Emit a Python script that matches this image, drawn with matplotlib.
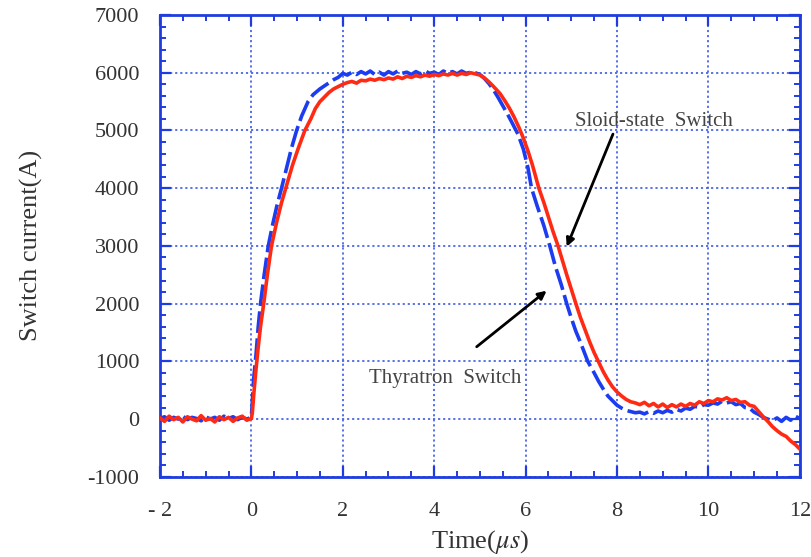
import numpy as np
import matplotlib
matplotlib.use("Agg")
import matplotlib.pyplot as plt
from matplotlib.ticker import MultipleLocator

plt.rcParams['font.family'] = ['Liberation Serif', 'DejaVu Serif']
plt.rcParams['mathtext.fontset'] = 'stix'
plt.rcParams['axes.unicode_minus'] = False

# DATA
t_red = [-2.0, -1.9, -1.8, -1.7, -1.6, -1.5, -1.4, -1.3, -1.2, -1.1, -1.0, -0.9, -0.8, -0.7, -0.6,
         -0.5, -0.4, -0.3, -0.2, -0.1, 0.0,
         0.02, 0.06, 0.1, 0.15, 0.2, 0.27, 0.35, 0.44, 0.55, 0.66, 0.77, 0.9, 1.03, 1.17, 1.3, 1.4,
         1.5, 1.6, 1.7, 1.8, 1.9, 2.0, 2.1,
         2.2, 2.3, 2.4, 2.5, 2.6, 2.7, 2.8, 2.9, 3.0, 3.1, 3.2, 3.3, 3.4, 3.5, 3.6, 3.7, 3.8, 3.9,
         4.0, 4.1, 4.2, 4.3, 4.4, 4.5, 4.6, 4.7, 4.8, 4.9, 5.0,
         5.1, 5.2, 5.3, 5.44, 5.55, 5.65, 5.75, 5.85, 5.95, 6.05, 6.15, 6.29, 6.4, 6.5, 6.6, 6.71, 6.8,
         6.9, 7.0, 7.1, 7.2, 7.3, 7.4, 7.5, 7.59, 7.7, 7.8, 7.9, 8.0, 8.1, 8.2, 8.3, 8.4, 8.5,
         8.6, 8.7, 8.8, 8.9, 9.0, 9.1, 9.2, 9.3, 9.4, 9.5, 9.6, 9.7, 9.8, 9.9, 10.0, 10.1, 10.2,
         10.3, 10.4, 10.5, 10.6, 10.7, 10.8, 10.9, 11.0, 11.1, 11.2, 11.3, 11.4, 11.5, 11.6, 11.7,
         11.8, 11.9, 12.0]
i_red = [20, -40, 50, -10, 30, -50, 40, 0, -30, 60, -20, 10, -50, 40, -10,
         30, -40, 20, 50, -20, 10,
         100, 500, 850, 1250, 1600, 2000, 2500, 3000, 3400, 3750, 4050, 4400, 4700, 5000, 5200, 5380,
         5500, 5580, 5660, 5720, 5760, 5800, 5830,
         5850, 5820, 5870, 5860, 5890, 5870, 5900, 5880, 5910, 5890, 5930, 5900, 5940, 5920, 5950, 5930, 5960, 5940,
         5970, 5950, 5980, 5960, 5990, 5960, 5990, 5970, 6000, 5980, 5960,
         5910, 5840, 5760, 5640, 5510, 5380, 5230, 5060, 4870, 4650, 4400, 4000, 3750, 3500, 3250, 3000, 2760,
         2500, 2250, 2000, 1760, 1550, 1340, 1150, 1000, 820, 680, 560, 470, 400, 340, 300, 280, 250,
         290, 230, 270, 210, 260, 200, 250, 210, 260, 220, 270, 240, 300, 270, 320, 300, 350,
         330, 370, 320, 340, 290, 300, 240, 220, 130, 40, -40, -130, -200, -260, -300,
         -380, -440, -520]

t_blue = [-2.0, -1.9, -1.8, -1.7, -1.6, -1.5, -1.4, -1.3, -1.2, -1.1, -1.0, -0.9, -0.8, -0.7, -0.6,
          -0.5, -0.4, -0.3, -0.2, -0.1, 0.0,
          0.02, 0.05, 0.1, 0.15, 0.2, 0.28, 0.37, 0.46, 0.56, 0.66, 0.77, 0.88, 0.99, 1.1, 1.24, 1.35,
          1.5, 1.65, 1.8, 1.9, 2.0,
          2.1, 2.2, 2.3, 2.4, 2.5, 2.6, 2.7, 2.8, 2.9, 3.0, 3.1, 3.2, 3.3, 3.4, 3.5, 3.6, 3.7, 3.8, 3.9,
          4.0, 4.1, 4.2, 4.3, 4.4, 4.5, 4.6, 4.7, 4.8, 4.9, 5.0,
          5.1, 5.2, 5.3, 5.4, 5.5, 5.6, 5.7, 5.83, 5.95, 6.05, 6.13, 6.25, 6.4, 6.53, 6.65, 6.78, 6.9,
          7.0, 7.1, 7.2, 7.36, 7.5, 7.6, 7.7, 7.8, 7.9, 8.0, 8.1, 8.2, 8.3, 8.4, 8.5,
          8.6, 8.7, 8.8, 8.9, 9.0, 9.1, 9.2, 9.3, 9.4, 9.5, 9.6, 9.7, 9.8, 9.9, 10.0, 10.1, 10.2,
          10.3, 10.4, 10.5, 10.6, 10.7, 10.8, 10.9, 11.0, 11.1, 11.2, 11.3, 11.4, 11.5, 11.6, 11.7,
          11.8, 11.9, 12.0]
i_blue = [10, 40, -20, 30, 0, 50, -10, 30, 10, -30, 40, 0, 30, -20, 50,
          10, 40, -10, 30, 0, 30,
          300, 700, 1100, 1600, 2000, 2500, 3000, 3350, 3700, 4000, 4350, 4700, 5000, 5250, 5500, 5620,
          5720, 5800, 5880, 5920, 5990,
          5960, 6010, 5970, 6020, 5980, 6030, 5970, 6010, 5960, 6020, 5980, 6030, 5990, 6010, 5970, 6020, 5980, 6030, 5990,
          6010, 5970, 6030, 5990, 6020, 5980, 6030, 5990, 6010, 6000, 5970,
          5900, 5810, 5700, 5570, 5430, 5290, 5140, 4940, 4680, 4360, 4000, 3700, 3350, 3000, 2650, 2330, 2000,
          1750, 1520, 1330, 1000, 800, 650, 520, 400, 320, 240, 190, 150, 130, 110, 120,
          90, 130, 100, 140, 110, 150, 120, 170, 140, 190, 170, 220, 200, 250, 240, 280, 260,
          310, 280, 300, 250, 270, 200, 190, 120, 80, 30, 0, -30, 20, -40, 30,
          -20, 50, 10]

x_ticks = [-2, 0, 2, 4, 6, 8, 10, 12]
x_ticklabels = ['- 2', '0', '2', '4', '6', '8', '10', '12']
y_ticks = [-1000, 0, 1000, 2000, 3000, 4000, 5000, 6000, 7000]

frame_blue = '#1f3ce0'
grid_blue = '#4a66e6'
text_gray = '#333333'

fig = plt.figure(figsize=(8.12, 5.57), dpi=100)
ax = fig.add_axes([0.197, 0.144, 0.788, 0.829])

ax.plot(t_blue, i_blue, color='#1b3cf0', lw=2.6, dashes=(6, 1.5), zorder=3)
ax.plot(t_red, i_red, color='#ff2a14', lw=2.6, zorder=4)

ax.set_xlim(-2, 12)
ax.set_ylim(-1000, 7000)
ax.set_xticks(x_ticks)
ax.set_xticklabels(x_ticklabels)
ax.set_yticks(y_ticks)
ax.xaxis.set_minor_locator(MultipleLocator(0.5))
ax.yaxis.set_minor_locator(MultipleLocator(200))

ax.grid(True, which='major', color=grid_blue, ls=(0, (1.2, 1.6)), lw=1.3, zorder=1)
for s in ax.spines.values():
    s.set_color(frame_blue)
    s.set_linewidth(2)

ax.tick_params(which='both', direction='in', top=True, right=True, color=frame_blue,
               labelsize=16, labelcolor=text_gray)
ax.tick_params(axis='x', pad=18)
ax.tick_params(axis='y', pad=15)
ax.tick_params(which='major', length=8, width=1.6)
ax.tick_params(which='minor', length=4, width=1.4)

ax.set_xlabel(r'Time($\mu s$)', fontsize=19, color=text_gray, labelpad=5)
ax.set_ylabel('Switch current(A)', fontsize=19, color=text_gray, labelpad=32)

ax.annotate('Sloid-state  Switch', xy=(6.90, 2986), xytext=(8.8, 5150),
            fontsize=15, color='#444444', ha='center', va='center', zorder=5,
            arrowprops=dict(arrowstyle='-|>', color='black', lw=2,
                            shrinkA=0, shrinkB=0, mutation_scale=12,
                            relpos=(0.25, 0)))
ax.annotate('', xy=(6.46, 2224), xytext=(4.93, 1253),
            arrowprops=dict(arrowstyle='-|>', color='black', lw=2,
                            shrinkA=0, shrinkB=0, mutation_scale=12), zorder=5)
ax.text(4.23, 710, 'Thyratron  Switch', fontsize=15, color='#444444',
        ha='center', va='center', zorder=5)

fig.savefig('out.png', dpi=100)
